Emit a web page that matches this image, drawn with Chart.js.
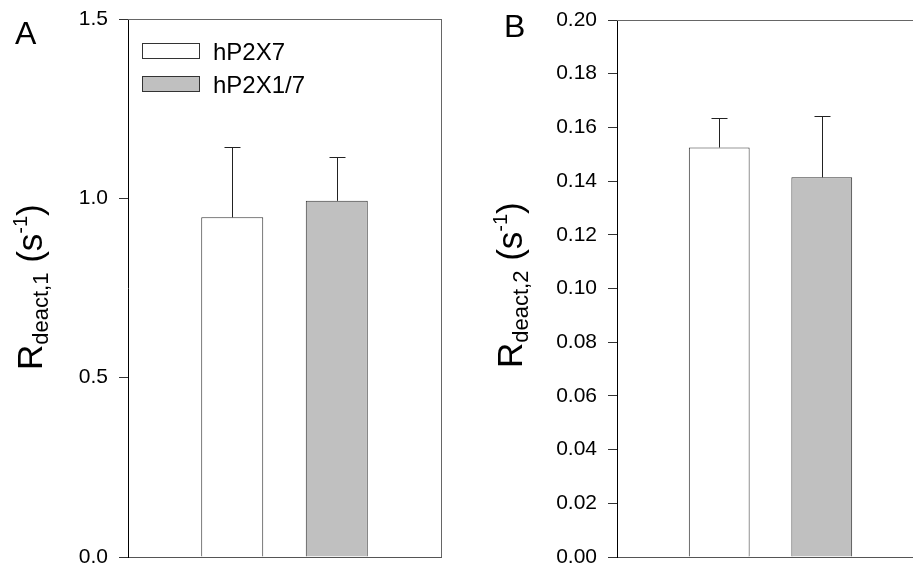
<!DOCTYPE html>
<html>
<head>
<meta charset="utf-8">
<script src="https://cdn.jsdelivr.net/npm/chart.js@4.4.1/dist/chart.umd.min.js"></script>
<style>
  html, body { margin: 0; padding: 0; background: #fff; overflow: hidden; width: 913px; height: 569px; }
  canvas { position: absolute; top: 0; }
  #chartA { left: 0; }
  #chartB { left: 460px; }
</style>
</head>
<body>
<canvas id="chartA" width="456" height="569"></canvas>
<canvas id="chartB" width="470" height="569"></canvas>
<script>
// data
var groups = ["hP2X7", "hP2X1/7"];
var fills = ["#ffffff", "#c0c0c0"];
var rate1Mean = [0.947, 0.993];
var rate1Err = [0.196, 0.121];
var rate2Mean = [0.1525, 0.1414];
var rate2Err = [0.011, 0.0227];
var ticksA = [0, 0.5, 1.0, 1.5];
var ticksB = [0, 0.02, 0.04, 0.06, 0.08, 0.10, 0.12, 0.14, 0.16, 0.18, 0.20];

var fam = "'Liberation Sans', Arial, sans-serif";

// up-only error bars with caps
var errorBars = {
  id: "errorBars",
  afterDatasetsDraw: function(chart, args, opts) {
    var ctx = chart.ctx;
    var y = chart.scales.y;
    ctx.save();
    ctx.strokeStyle = "#222";
    ctx.lineWidth = 1;
    chart.data.datasets.forEach(function(ds, i) {
      var bar = chart.getDatasetMeta(i).data[0];
      var top = y.getPixelForValue(ds.data[0] + opts.err[i]);
      var x = Math.round(bar.x) + 0.5;
      ctx.beginPath();
      ctx.moveTo(x, bar.y);
      ctx.lineTo(x, top);
      ctx.moveTo(x - 8, Math.round(top) + 0.5);
      ctx.lineTo(x + 8, Math.round(top) + 0.5);
      ctx.stroke();
    });
    ctx.restore();
  }
};

// top and right frame lines
var frame = {
  id: "frame",
  afterDraw: function(chart) {
    var a = chart.chartArea, ctx = chart.ctx;
    ctx.save();
    ctx.strokeStyle = "#666";
    ctx.lineWidth = 1;
    ctx.beginPath();
    ctx.moveTo(a.left, Math.round(a.top) + 0.5);
    ctx.lineTo(a.right, Math.round(a.top) + 0.5);
    ctx.moveTo(Math.round(a.right) + 0.5, a.top);
    ctx.lineTo(Math.round(a.right) + 0.5, a.bottom);
    ctx.stroke();
    ctx.restore();
  }
};

// panel letter and rotated axis title with sub/superscript
var labels = {
  id: "labels",
  afterDraw: function(chart, args, o) {
    var ctx = chart.ctx;
    ctx.save();
    ctx.fillStyle = "#000";
    ctx.textBaseline = "alphabetic";
    ctx.font = "32px " + fam;
    ctx.fillText(o.letter, o.lx, o.ly);
    ctx.translate(o.tx, o.ty);
    ctx.rotate(-Math.PI / 2);
    var x = 0;
    var parts = [
      ["R", 35, 0], [o.sub, 22, 6], [" (s", 35, 0], ["-1", 20, -15], [")", 35, 0]
    ];
    parts.forEach(function(p) {
      ctx.font = p[1] + "px " + fam;
      ctx.fillText(p[0], x, p[2]);
      x += ctx.measureText(p[0]).width;
    });
    ctx.restore();
  }
};

// legend inside the plot area
var boxLegend = {
  id: "boxLegend",
  afterDraw: function(chart) {
    var a = chart.chartArea, ctx = chart.ctx;
    ctx.save();
    ctx.font = "24px " + fam;
    ctx.textBaseline = "alphabetic";
    chart.data.datasets.forEach(function(ds, i) {
      var bx = a.left + 14.5, by = a.top + 24.5 + i * 33;
      ctx.fillStyle = ds.backgroundColor;
      ctx.fillRect(bx, by, 57, 15);
      ctx.strokeStyle = "#333";
      ctx.lineWidth = 1;
      ctx.strokeRect(bx, by, 57, 15);
      ctx.fillStyle = "#000";
      ctx.fillText(ds.label, a.left + 85, by + 16);
    });
    ctx.restore();
  }
};

function makeChart(id, means, errs, tickVals, digits, axisWidth, pad, labelOpts, withLegend) {
  var sets = groups.map(function(g, i) {
    return {
      label: g,
      data: [means[i]],
      backgroundColor: fills[i],
      borderColor: "#333",
      borderWidth: 1,
      borderSkipped: "bottom",
      categoryPercentage: 0.668,
      barPercentage: 0.593
    };
  });
  var plugins = [errorBars, frame, labels];
  if (withLegend) plugins.push(boxLegend);
  return new Chart(document.getElementById(id), {
    type: "bar",
    data: { labels: [""], datasets: sets },
    plugins: plugins,
    options: {
      responsive: false,
      animation: false,
      devicePixelRatio: 1,
      layout: { padding: pad },
      plugins: {
        legend: { display: false },
        tooltip: { enabled: false },
        errorBars: { err: errs },
        labels: labelOpts
      },
      scales: {
        x: {
          ticks: { display: false },
          grid: { display: false, drawTicks: false },
          border: { display: true, color: "#555", width: 1 },
          afterFit: function(s) { s.height = 0; s.paddingLeft = 0; s.paddingRight = 0; }
        },
        y: {
          min: tickVals[0],
          max: tickVals[tickVals.length - 1],
          afterBuildTicks: function(s) {
            s.ticks = tickVals.map(function(v) { return { value: v }; });
          },
          afterFit: function(s) { s.width = axisWidth; s.paddingTop = 0; s.paddingBottom = 0; },
          ticks: {
            color: "#000",
            padding: 11,
            font: { family: fam, size: 21 },
            callback: function(v) { return Number(v).toFixed(digits); }
          },
          grid: { drawOnChartArea: false, drawTicks: true, tickLength: 9, color: "#333" },
          border: { display: true, color: "#000", width: 1 }
        }
      }
    }
  });
}

makeChart("chartA", rate1Mean, rate1Err, ticksA, 1, 128,
  { top: 19, bottom: 12, left: 0, right: 15 },
  { letter: "A", lx: 15, ly: 44, tx: 42, ty: 370, sub: "deact,1" }, true);

makeChart("chartB", rate2Mean, rate2Err, ticksB, 2, 157,
  { top: 20, bottom: 12, left: 0, right: 6 },
  { letter: "B", lx: 44, ly: 37, tx: 62, ty: 368, sub: "deact,2" }, false);
</script>
</body>
</html>
